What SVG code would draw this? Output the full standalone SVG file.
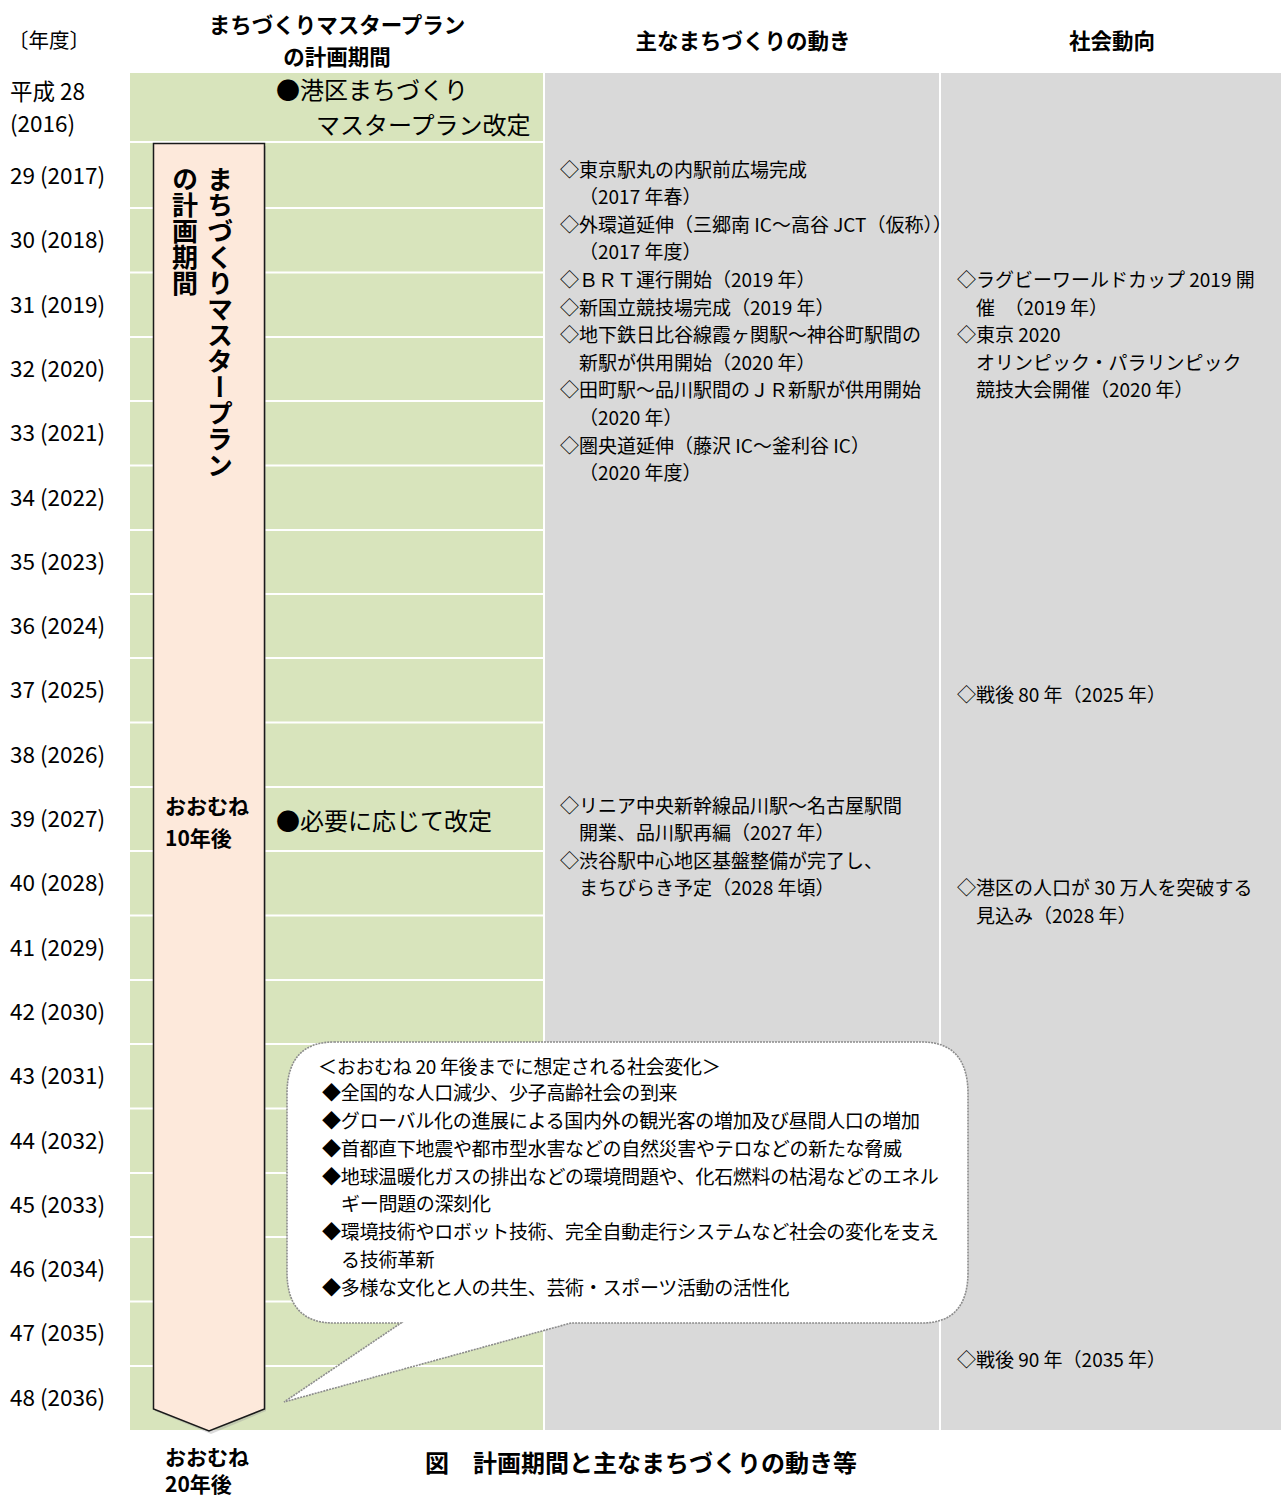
<svg xmlns="http://www.w3.org/2000/svg" width="1281" height="1497" viewBox="0 0 1281 1497">
<style>
text{font-family:"Noto Sans CJK JP","Noto Sans",sans-serif;fill:#000}
.hd{font-size:21.5px;font-weight:bold}
.yr{font-size:22.5px}
.big{font-size:24px}
.ev{font-size:19px}
.bb{font-size:19px;letter-spacing:-0.3px}
.vt{font-size:26px;font-weight:bold;writing-mode:vertical-rl;text-orientation:upright}
.bd{font-size:21px;font-weight:bold}
.ttl{font-size:24px;font-weight:bold}
.rl{fill:#fff}
</style>
<rect width="1281" height="1497" fill="#fff"/>
<g id="table">
<rect x="130" y="73" width="413" height="1357" fill="#D8E4BC"/>
<rect x="545" y="73" width="394" height="1357" fill="#D9D9D9"/>
<rect x="941" y="73" width="340" height="1357" fill="#D9D9D9"/>
<g class="rl">
<rect x="130" y="141" width="413" height="2"/>
<rect x="130" y="207" width="413" height="2"/>
<rect x="130" y="271.5" width="413" height="2"/>
<rect x="130" y="336" width="413" height="2"/>
<rect x="130" y="400" width="413" height="2"/>
<rect x="130" y="464.5" width="413" height="2"/>
<rect x="130" y="529" width="413" height="2"/>
<rect x="130" y="593" width="413" height="2"/>
<rect x="130" y="657" width="413" height="2"/>
<rect x="130" y="721.5" width="413" height="2"/>
<rect x="130" y="786" width="413" height="2"/>
<rect x="130" y="850" width="413" height="2"/>
<rect x="130" y="914.5" width="413" height="2"/>
<rect x="130" y="979" width="413" height="2"/>
<rect x="130" y="1043" width="413" height="2"/>
<rect x="130" y="1107.5" width="413" height="2"/>
<rect x="130" y="1172" width="413" height="2"/>
<rect x="130" y="1236" width="413" height="2"/>
<rect x="130" y="1300.5" width="413" height="2"/>
<rect x="130" y="1365" width="413" height="2"/>
</g>
</g>
<g id="headers">
<text x="8" y="48" style="font-size:20.5px">〔年度〕</text>
<text class="hd" x="337" y="33" text-anchor="middle">まちづくりマスタープラン</text>
<text class="hd" x="337" y="65" text-anchor="middle">の計画期間</text>
<text class="hd" x="743" y="49" text-anchor="middle">主なまちづくりの動き</text>
<text class="hd" x="1112" y="49" text-anchor="middle">社会動向</text>
</g>
<g id="years" class="yr">
<text x="10" y="100">平成 28</text>
<text x="10" y="132">(2016)</text>
<text x="10" y="184">29 (2017)</text>
<text x="10" y="248">30 (2018)</text>
<text x="10" y="313">31 (2019)</text>
<text x="10" y="377">32 (2020)</text>
<text x="10" y="441">33 (2021)</text>
<text x="10" y="506">34 (2022)</text>
<text x="10" y="570">35 (2023)</text>
<text x="10" y="634">36 (2024)</text>
<text x="10" y="698">37 (2025)</text>
<text x="10" y="763">38 (2026)</text>
<text x="10" y="827">39 (2027)</text>
<text x="10" y="891">40 (2028)</text>
<text x="10" y="956">41 (2029)</text>
<text x="10" y="1020">42 (2030)</text>
<text x="10" y="1084">43 (2031)</text>
<text x="10" y="1149">44 (2032)</text>
<text x="10" y="1213">45 (2033)</text>
<text x="10" y="1277">46 (2034)</text>
<text x="10" y="1341">47 (2035)</text>
<text x="10" y="1406">48 (2036)</text>
</g>
<g id="plan-events" class="big">
<text x="276" y="99">●港区まちづくり</text>
<text x="316" y="134">マスタープラン改定</text>
<text x="276" y="830">●必要に応じて改定</text>
</g>
<g id="arrow">
<path d="M155,146 H266 V1411 L211,1434 L155,1411 Z" fill="#999" opacity="0.35"/>
<path d="M153.5,143.5 H264.5 V1409 L209,1431 L153.5,1409 Z" fill="#FDE9DB" stroke="#1a1a1a" stroke-width="1.5"/>
<text class="vt" x="220" y="166">まちづくりマスタープラン</text>
<text class="vt" x="185" y="166">の計画期間</text>
<text class="bd" x="165" y="814">おおむね</text>
<text class="bd" x="165" y="846">10年後</text>
</g>
<g id="town-events" class="ev">
<text x="560" y="177">◇東京駅丸の内駅前広場完成</text>
<text x="579" y="204">（2017 年春）</text>
<text x="560" y="232">◇外環道延伸（三郷南 IC～高谷 JCT（仮称））</text>
<text x="579" y="259">（2017 年度）</text>
<text x="560" y="287">◇ＢＲＴ運行開始（2019 年）</text>
<text x="560" y="315">◇新国立競技場完成（2019 年）</text>
<text x="560" y="342">◇地下鉄日比谷線霞ヶ関駅～神谷町駅間の</text>
<text x="579" y="370">新駅が供用開始（2020 年）</text>
<text x="560" y="397">◇田町駅～品川駅間のＪＲ新駅が供用開始</text>
<text x="579" y="425">（2020 年）</text>
<text x="560" y="453">◇圏央道延伸（藤沢 IC～釜利谷 IC）</text>
<text x="579" y="480">（2020 年度）</text>
<text x="560" y="813">◇リニア中央新幹線品川駅～名古屋駅間</text>
<text x="579" y="840">開業、品川駅再編（2027 年）</text>
<text x="560" y="868">◇渋谷駅中心地区基盤整備が完了し、</text>
<text x="579" y="895">まちびらき予定（2028 年頃）</text>
</g>
<g id="social-events" class="ev">
<text x="957" y="287">◇ラグビーワールドカップ 2019 開</text>
<text x="976" y="315">催　（2019 年）</text>
<text x="957" y="342">◇東京 2020</text>
<text x="976" y="370">オリンピック・パラリンピック</text>
<text x="976" y="397">競技大会開催（2020 年）</text>
<text x="957" y="702">◇戦後 80 年（2025 年）</text>
<text x="957" y="895">◇港区の人口が 30 万人を突破する</text>
<text x="976" y="923">見込み（2028 年）</text>
<text x="957" y="1367">◇戦後 90 年（2035 年）</text>
</g>
<g id="callout">
<path d="M334,1042 H922 Q968,1042 968,1094 V1272 Q968,1323 922,1323 H571 L284,1402 L401,1323 H334 Q287,1323 287,1272 V1094 Q287,1042 334,1042 Z" fill="#fff" stroke="#8c8c8c" stroke-width="1.6" stroke-dasharray="2 1"/>
<g class="bb">
<text x="318" y="1074">＜おおむね 20 年後までに想定される社会変化＞</text>
<text x="322" y="1100">◆全国的な人口減少、少子高齢社会の到来</text>
<text x="322" y="1128">◆グローバル化の進展による国内外の観光客の増加及び昼間人口の増加</text>
<text x="322" y="1156">◆首都直下地震や都市型水害などの自然災害やテロなどの新たな脅威</text>
<text x="322" y="1184">◆地球温暖化ガスの排出などの環境問題や、化石燃料の枯渇などのエネル</text>
<text x="341" y="1211">ギー問題の深刻化</text>
<text x="322" y="1239">◆環境技術やロボット技術、完全自動走行システムなど社会の変化を支え</text>
<text x="341" y="1267">る技術革新</text>
<text x="322" y="1295">◆多様な文化と人の共生、芸術・スポーツ活動の活性化</text>
</g>
</g>
<g id="footer">
<text class="bd" x="165" y="1465">おおむね</text>
<text class="bd" x="165" y="1492">20年後</text>
<text class="ttl" x="425" y="1472">図　計画期間と主なまちづくりの動き等</text>
</g>
</svg>
